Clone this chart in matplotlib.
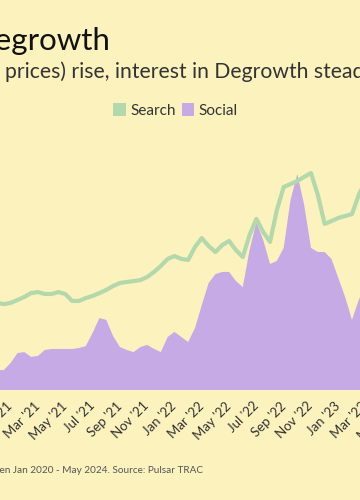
import numpy as np
import matplotlib.pyplot as plt
from matplotlib.patches import Patch

plt.rcParams["font.family"] = ["Lato", "DejaVu Sans"]

BG = "#fcf2be"
GREEN = "#b3d8ab"
PURPLE = "#c6aae6"

# months since Jan 2020, half-month steps (visible part of the chart)
months = np.arange(11, 38.01, 0.5)

search = [36.3, 35.8, 36.3, 37.5, 38.8, 40.4, 40.8, 40.0, 40.0, 40.8,
          40.0, 37.1, 37.1, 38.3, 39.2, 40.4, 41.7, 43.3, 44.6, 45.0,
          45.4, 45.8, 47.1, 49.2, 51.7, 54.6, 55.8, 54.6, 54.2, 59.6,
          63.3, 60.0, 57.5, 60.4, 62.1, 58.3, 55.4, 64.6, 71.3, 65.8,
          61.7, 75.0, 84.6, 85.8, 87.1, 88.8, 90.4, 81.3, 69.2, 70.4,
          71.7, 72.5, 73.3, 81.3, 87.5]

social = [8.3, 8.3, 11.3, 15.4, 15.8, 13.8, 14.2, 16.7, 17.1, 17.1,
          17.1, 17.1, 17.5, 18.3, 23.8, 30.0, 29.2, 22.5, 17.9, 16.7,
          15.8, 17.9, 18.8, 17.1, 15.8, 22.1, 24.2, 22.1, 20.0, 25.8,
          35.4, 44.6, 48.3, 49.2, 49.2, 45.4, 42.9, 58.3, 70.0, 62.5,
          52.5, 53.8, 59.2, 79.2, 90.0, 77.1, 59.2, 57.5, 57.5, 54.6,
          46.7, 38.8, 29.2, 37.5, 43.8]

tick_pos = np.arange(0, 53, 2)
mon_names = ["Jan", "Mar", "May", "Jul", "Sep", "Nov"]
tick_labels = [f"{mon_names[(p % 12) // 2]} '{20 + p // 12}" for p in tick_pos]

fig = plt.figure(figsize=(3.6, 5), dpi=100, facecolor=BG)

# the crop shows only the middle of a much wider chart
ax = fig.add_axes([-0.4253, 0.22, 1.9717, 0.48])
ax.set_facecolor(BG)
ax.fill_between(months, social, 0, color=PURPLE, lw=0, zorder=2)
ax.plot(months, search, color=GREEN, lw=3, solid_capstyle="round",
        solid_joinstyle="round", zorder=3)
ax.set_xlim(0, 52)
ax.set_ylim(0, 100)
ax.set_yticks([])
for s in ax.spines.values():
    s.set_visible(False)
ax.set_xticks(tick_pos)
ax.set_xticklabels(tick_labels, rotation=45, ha="right", va="center",
                   rotation_mode="anchor", fontsize=9.5, color="#333333")
ax.tick_params(axis="x", length=0, pad=10)

fig.text(110 / 360, 1 - 50 / 500, "Degrowth", ha="right", va="baseline",
         fontsize=22.5, color="#111111")
fig.text(5 / 360, 1 - 78 / 500, "prices) rise, interest in Degrowth steadily grew",
         ha="left", va="baseline", fontsize=15.2, color="#333333")

handles = [Patch(facecolor=GREEN, edgecolor="none", label="Search"),
           Patch(facecolor=PURPLE, edgecolor="none", label="Social")]
fig.legend(handles=handles, loc="center", bbox_to_anchor=(0.4875, 0.779),
           ncol=2, frameon=False, fontsize=11, handlelength=0.8,
           handleheight=0.9, handletextpad=0.3, columnspacing=0.4,
           labelcolor="#333333")

fig.text(203 / 360, 1 - 473 / 500,
         "Search and social interest between Jan 2020 - May 2024. Source: Pulsar TRAC",
         ha="right", va="baseline", fontsize=7.2, color="#555555")

fig.savefig("out.png", dpi=100, facecolor=BG)
